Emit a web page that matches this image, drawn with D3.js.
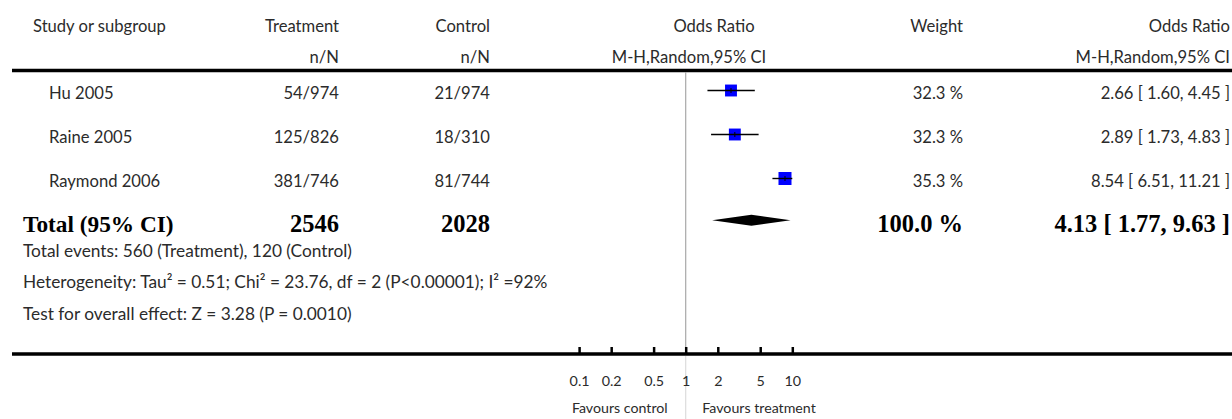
<!DOCTYPE html>
<html>
<head>
<meta charset="utf-8">
<script src="https://cdn.jsdelivr.net/npm/d3@7"></script>
<style>
  html, body { margin: 0; padding: 0; background: #fff; }
  svg { display: block; }
  .reg { font-family: Lato, "Open Sans", sans-serif; fill: #2b2b2b; }
  .bold { font-family: "Liberation Serif", "Times New Roman", serif; font-weight: bold; fill: #000; }
</style>
</head>
<body>
<svg id="chart" width="1232" height="419"></svg>
<script>
// Study-level data
const studies      = ["Hu 2005", "Raine 2005", "Raymond 2006"];
const treatEvents  = [54, 125, 381];
const treatTotal   = [974, 826, 746];
const ctrlEvents   = [21, 18, 81];
const ctrlTotal    = [974, 310, 744];
const oddsRatio    = [2.66, 2.89, 8.54];
const ciLow        = [1.60, 1.73, 6.51];
const ciHigh       = [4.45, 4.83, 11.21];
const weights      = [32.3, 32.3, 35.3];

// Pooled estimate
const totalTreat   = 2546;
const totalCtrl    = 2028;
const pooledOR     = 4.13;
const pooledLow    = 1.77;
const pooledHigh   = 9.63;
const pooledWeight = 100.0;

// Axis
const axisTicks    = [0.1, 0.2, 0.5, 1, 2, 5, 10];

const svg = d3.select("#chart");
const fmt2 = d3.format(".2f");
const fmt1 = d3.format(".1f");

const x = d3.scaleLog().domain([0.1, 10]).range([579.1, 792.3]).clamp(true);
const rowY = d3.scalePoint().domain(studies).range([99, 187]);
const boxSize = d3.scaleLinear().domain([0, 35.3]).range([0, 13]);

// Column anchors and type sizes
const colStudy = 49, colTreat = 339, colCtrl = 490, colWeight = 963, colCI = 1230;
const REG = 16.6, NOTE = 17.3, BOLD_LABEL = 23.3, BOLD_NUM = 24.5, AXIS = 14.3;

function txt(xp, yp, s, cls, anchor, size) {
  return svg.append("text")
    .attr("x", xp).attr("y", yp)
    .attr("class", cls)
    .attr("text-anchor", anchor)
    .style("font-size", size + "px")
    .text(s);
}

// Header
txt(33, 32, "Study or subgroup", "reg", "start", REG);
txt(colTreat, 32, "Treatment", "reg", "end", REG);
txt(colTreat, 63, "n/N", "reg", "end", REG);
txt(colCtrl, 32, "Control", "reg", "end", REG);
txt(colCtrl, 63, "n/N", "reg", "end", REG);
txt(714, 32, "Odds Ratio", "reg", "middle", REG);
txt(689, 63, "M-H,Random,95% CI", "reg", "middle", REG);
txt(colWeight, 32, "Weight", "reg", "end", REG);
txt(colCI, 32, "Odds Ratio", "reg", "end", REG);
txt(colCI, 63, "M-H,Random,95% CI", "reg", "end", REG);

// Header rule
svg.append("line").attr("x1", 12).attr("x2", 1232).attr("y1", 70.5).attr("y2", 70.5)
  .attr("stroke", "#000").attr("stroke-width", 3.5);

// Line of no effect
svg.append("line").attr("x1", x(1)).attr("x2", x(1)).attr("y1", 72).attr("y2", 352)
  .attr("stroke", "#a8a8a8").attr("stroke-width", 1.2);
svg.append("line").attr("x1", x(1)).attr("x2", x(1)).attr("y1", 356).attr("y2", 419)
  .attr("stroke", "#dcdcdc").attr("stroke-width", 1.2);

// Study rows
studies.forEach((s, i) => {
  const y = rowY(s);
  txt(colStudy, y, s, "reg", "start", REG);
  txt(colTreat, y, treatEvents[i] + "/" + treatTotal[i], "reg", "end", REG);
  txt(colCtrl, y, ctrlEvents[i] + "/" + ctrlTotal[i], "reg", "end", REG);
  txt(colWeight, y, fmt1(weights[i]) + " %", "reg", "end", REG);
  txt(colCI, y, fmt2(oddsRatio[i]) + " [ " + fmt2(ciLow[i]) + ", " + fmt2(ciHigh[i]) + " ]", "reg", "end", REG);

  const cy = y - 8.5;
  const sz = boxSize(weights[i]);
  svg.append("rect")
    .attr("x", x(oddsRatio[i]) - sz / 2).attr("y", cy - sz / 2)
    .attr("width", sz).attr("height", sz)
    .attr("fill", "#0000ff");
  svg.append("line")
    .attr("x1", x(ciLow[i])).attr("x2", x(ciHigh[i]))
    .attr("y1", cy).attr("y2", cy)
    .attr("stroke", "#000").attr("stroke-width", 1.4);
  svg.append("line")
    .attr("x1", x(oddsRatio[i])).attr("x2", x(oddsRatio[i]))
    .attr("y1", cy - 2.5).attr("y2", cy + 2.5)
    .attr("stroke", "#000").attr("stroke-width", 1);
});

// Total row
const totY = 231.7;
txt(23, totY, "Total (95% CI)", "bold", "start", BOLD_LABEL);
txt(colTreat, totY, String(totalTreat), "bold", "end", BOLD_NUM);
txt(colCtrl, totY, String(totalCtrl), "bold", "end", BOLD_NUM);
txt(colWeight, totY, fmt1(pooledWeight) + " %", "bold", "end", BOLD_NUM);
txt(colCI, totY, fmt2(pooledOR) + " [ " + fmt2(pooledLow) + ", " + fmt2(pooledHigh) + " ]", "bold", "end", BOLD_NUM);

// Pooled diamond
const dy = 220.3, dh = 5.5;
svg.append("path")
  .attr("d", `M${x(pooledLow)},${dy} L${x(pooledOR)},${dy - dh} L${x(pooledHigh)},${dy} L${x(pooledOR)},${dy + dh} Z`)
  .attr("fill", "#000");

// Notes
txt(23, 256.7, "Total events: 560 (Treatment), 120 (Control)", "reg", "start", NOTE);
txt(23, 288.3, "Heterogeneity: Tau\u00b2 = 0.51; Chi\u00b2 = 23.76, df = 2 (P<0.00001); I\u00b2 =92%", "reg", "start", NOTE);
txt(23, 320, "Test for overall effect: Z = 3.28 (P = 0.0010)", "reg", "start", NOTE);

// Bottom rule / axis line
svg.append("line").attr("x1", 12).attr("x2", 1232).attr("y1", 354).attr("y2", 354)
  .attr("stroke", "#000").attr("stroke-width", 3.5);

const axis = d3.axisBottom(x)
  .tickValues(axisTicks)
  .tickSize(-6)
  .tickPadding(23)
  .tickFormat(d => String(d));

const gAxis = svg.append("g").attr("transform", "translate(0,353)").call(axis);
gAxis.select(".domain").remove();
gAxis.selectAll(".tick line").attr("stroke", "#000").attr("stroke-width", 2.5);
gAxis.selectAll(".tick text")
  .attr("fill", "#2b2b2b")
  .style("font-family", "Lato, sans-serif")
  .style("font-size", AXIS + "px");

txt(667.7, 413, "Favours control", "reg", "end", 14.2);
txt(702.3, 413, "Favours treatment", "reg", "start", 14.2);
</script>
</body>
</html>
